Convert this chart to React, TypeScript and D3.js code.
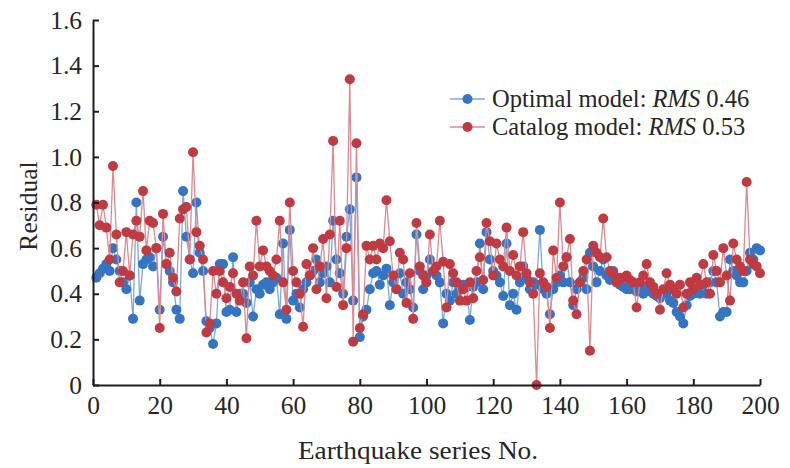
import React, { useEffect, useRef } from 'react';
import * as d3 from 'd3';

// residuals, series No. 1..200
const optimalResidual = [
  0.47, 0.49, 0.51, 0.53, 0.50, 0.60, 0.55, 0.50, 0.45, 0.42,
  0.48, 0.29, 0.80, 0.37, 0.53, 0.55, 0.56, 0.52, 0.60, 0.33,
  0.65, 0.53, 0.50, 0.45, 0.33, 0.29, 0.85, 0.65, 0.55, 0.49,
  0.80, 0.58, 0.50, 0.28, 0.25, 0.18, 0.27, 0.53, 0.53, 0.32,
  0.33, 0.56, 0.32, 0.40, 0.40, 0.36, 0.45, 0.30, 0.42, 0.40,
  0.44, 0.45, 0.42, 0.45, 0.47, 0.31, 0.62, 0.29, 0.68, 0.37,
  0.40, 0.34, 0.42, 0.45, 0.48, 0.50, 0.55, 0.45, 0.49, 0.52,
  0.45, 0.72, 0.55, 0.49, 0.40, 0.65, 0.77, 0.37, 0.91, 0.21,
  0.30, 0.33, 0.42, 0.49, 0.50, 0.44, 0.48, 0.51, 0.35, 0.45,
  0.42, 0.49, 0.40, 0.45, 0.42, 0.34, 0.66, 0.50, 0.42, 0.48,
  0.55, 0.50, 0.48, 0.45, 0.27, 0.40, 0.37, 0.45, 0.40, 0.42,
  0.44, 0.43, 0.285, 0.43, 0.45, 0.62, 0.42, 0.67, 0.55, 0.50,
  0.48, 0.45, 0.39, 0.62, 0.35, 0.40, 0.33, 0.45, 0.52, 0.47,
  0.42, 0.45, 0.44, 0.68, 0.42, 0.40, 0.31, 0.42, 0.45, 0.48,
  0.45, 0.56, 0.45, 0.35, 0.42, 0.45, 0.47, 0.42, 0.58, 0.52,
  0.45, 0.50, 0.55, 0.48, 0.46, 0.50, 0.45, 0.44, 0.43, 0.42,
  0.42, 0.44, 0.41, 0.42, 0.40, 0.43, 0.41, 0.40, 0.39, 0.38,
  0.40, 0.40, 0.37, 0.36, 0.32, 0.30, 0.27, 0.35, 0.39, 0.40,
  0.42, 0.40, 0.44, 0.40, 0.45, 0.50, 0.45, 0.30, 0.32, 0.32,
  0.55, 0.50, 0.48, 0.45, 0.45, 0.50, 0.58, 0.55, 0.60, 0.59,
];

const catalogResidual = [
  0.79, 0.70, 0.79, 0.69, 0.55, 0.96, 0.66, 0.45, 0.50, 0.67,
  0.48, 0.66, 0.72, 0.65, 0.85, 0.59, 0.72, 0.71, 0.60, 0.25,
  0.75, 0.53, 0.58, 0.47, 0.41, 0.73, 0.77, 0.78, 0.55, 1.02,
  0.67, 0.61, 0.55, 0.23, 0.27, 0.50, 0.40, 0.50, 0.45, 0.38,
  0.43, 0.49, 0.40, 0.37, 0.45, 0.205, 0.52, 0.48, 0.72, 0.52,
  0.59, 0.52, 0.50, 0.48, 0.55, 0.72, 0.45, 0.33, 0.80, 0.50,
  0.45, 0.40, 0.255, 0.53, 0.48, 0.60, 0.42, 0.52, 0.64, 0.38,
  0.66, 1.07, 0.43, 0.72, 0.35, 0.60, 1.34, 0.19, 1.06, 0.25,
  0.31, 0.61, 0.55, 0.61, 0.55, 0.62, 0.60, 0.81, 0.63, 0.48,
  0.42, 0.58, 0.55, 0.36, 0.49, 0.29, 0.71, 0.52, 0.48, 0.45,
  0.66, 0.50, 0.52, 0.72, 0.54, 0.34, 0.53, 0.49, 0.45, 0.37,
  0.42, 0.37, 0.45, 0.38, 0.50, 0.56, 0.46, 0.71, 0.63, 0.48,
  0.62, 0.55, 0.52, 0.69, 0.50, 0.57, 0.48, 0.52, 0.67, 0.49,
  0.45, 0.40, 0.00, 0.49, 0.45, 0.43, 0.25, 0.59, 0.47, 0.80,
  0.52, 0.56, 0.64, 0.37, 0.31, 0.45, 0.50, 0.55, 0.15, 0.61,
  0.58, 0.56, 0.73, 0.56, 0.50, 0.49, 0.45, 0.47, 0.47, 0.48,
  0.46, 0.45, 0.34, 0.45, 0.48, 0.53, 0.45, 0.43, 0.40, 0.33,
  0.42, 0.49, 0.44, 0.42, 0.40, 0.44, 0.34, 0.40, 0.45, 0.42,
  0.47, 0.44, 0.53, 0.45, 0.40, 0.57, 0.50, 0.45, 0.60, 0.48,
  0.37, 0.62, 0.55, 0.52, 0.50, 0.89, 0.55, 0.53, 0.52, 0.49,
];

const xTicks = [0, 20, 40, 60, 80, 100, 120, 140, 160, 180, 200];
const yTicks = [0, 0.2, 0.4, 0.6, 0.8, 1.0, 1.2, 1.4, 1.6];
const yTickLabels = ['0', '0.2', '0.4', '0.6', '0.8', '1.0', '1.2', '1.4', '1.6'];

const seriesNames = ['Optimal model: ', 'Catalog model: '];
const seriesRms = ['0.46', '0.53'];

const WIDTH = 790;
const HEIGHT = 468;
const FONT = '"Liberation Serif", "Times New Roman", serif';
const TEXT = '#262626';

const series = [
  { values: optimalResidual, dot: '#3574c2', line: '#7ca9dc' },
  { values: catalogResidual, dot: '#c03a42', line: '#de8990' },
];

const App: React.FC = () => {
  const svgRef = useRef<SVGSVGElement>(null);

  useEffect(() => {
    if (!svgRef.current) return;
    const svg = d3.select(svgRef.current);
    svg.selectAll('*').remove();

    const x = d3.scaleLinear().domain([0, 200]).range([93, 760]);
    const y = d3.scaleLinear().domain([0, 1.6]).range([385, 20]);

    // Series: thin connecting line then dots, red drawn last
    series.forEach(s => {
      const pts = s.values.map((v, i) => [i + 1, v] as [number, number]);
      const line = d3.line<[number, number]>()
        .x(d => x(d[0]))
        .y(d => y(d[1]));
      svg.append('path')
        .datum(pts)
        .attr('d', line)
        .attr('fill', 'none')
        .attr('stroke', s.line)
        .attr('stroke-width', 1.3);
      svg.append('g')
        .selectAll('circle')
        .data(pts)
        .enter()
        .append('circle')
        .attr('cx', d => x(d[0]))
        .attr('cy', d => y(d[1]))
        .attr('r', 5)
        .attr('fill', s.dot);
    });

    // Axes with inward ticks
    const yAxis = d3.axisLeft(y)
      .tickValues(yTicks)
      .tickFormat((d, i) => yTickLabels[i])
      .tickSizeInner(-6)
      .tickSizeOuter(0)
      .tickPadding(11);
    const xAxis = d3.axisBottom(x)
      .tickValues(xTicks)
      .tickFormat(d => String(d))
      .tickSizeInner(-6)
      .tickSizeOuter(0)
      .tickPadding(11);

    const gy = svg.append('g')
      .attr('transform', `translate(${x(0)},0)`)
      .call(yAxis);
    const gx = svg.append('g')
      .attr('transform', `translate(0,${y(0)})`)
      .call(xAxis);

    [gx, gy].forEach(g => {
      g.select('.domain').attr('stroke', '#1e1e1e').attr('stroke-width', 2);
      g.selectAll('.tick line').attr('stroke', '#1e1e1e').attr('stroke-width', 2);
      g.selectAll('.tick text')
        .attr('font-family', FONT)
        .attr('font-size', 25.5)
        .attr('fill', TEXT);
    });

    // Axis titles
    svg.append('text')
      .attr('transform', 'translate(418,459) scale(1.05,1)')
      .attr('text-anchor', 'middle')
      .attr('font-family', FONT)
      .attr('font-size', 26)
      .attr('fill', TEXT)
      .text('Earthquake series No.');

    svg.append('text')
      .attr('transform', 'translate(37,206) rotate(-90)')
      .attr('text-anchor', 'middle')
      .attr('font-family', FONT)
      .attr('font-size', 25.5)
      .attr('fill', TEXT)
      .text('Residual');

    // Legend
    const legend = svg.append('g').attr('transform', 'translate(450,99)');
    series.forEach((s, i) => {
      const row = legend.append('g').attr('transform', `translate(0,${i * 28})`);
      row.append('line')
        .attr('x1', 0).attr('x2', 35)
        .attr('y1', 0).attr('y2', 0)
        .attr('stroke', s.line)
        .attr('stroke-width', 1.6);
      row.append('circle')
        .attr('cx', 17.5).attr('cy', 0).attr('r', 5)
        .attr('fill', s.dot);
      const t = row.append('text')
        .attr('x', 42)
        .attr('y', 8)
        .attr('font-family', FONT)
        .attr('font-size', 24.5)
        .attr('fill', TEXT);
      t.append('tspan').text(seriesNames[i]);
      t.append('tspan').attr('font-style', 'italic').text('RMS');
      t.append('tspan').text(' ' + seriesRms[i]);
    });
  }, []);

  return (
    <svg
      ref={svgRef}
      width={WIDTH}
      height={HEIGHT}
      style={{ position: 'absolute', left: 0, top: 0, background: '#fff' }}
    />
  );
};

export default App;
